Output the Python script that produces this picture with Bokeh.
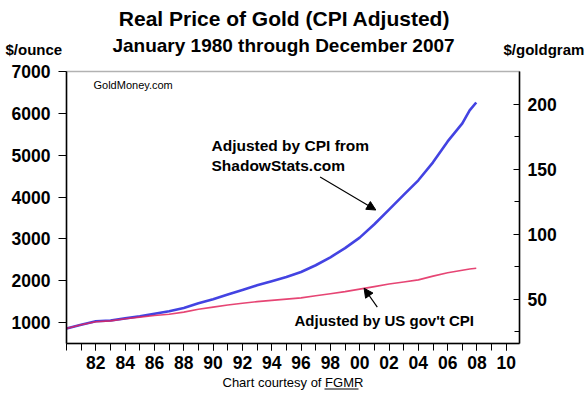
from bokeh.plotting import figure
from bokeh.models import (Range1d, LinearAxis, FixedTicker, Label, Arrow, NormalHead,
                          BoxAnnotation)
from bokeh.embed import file_html
from bokeh.resources import INLINE

# ---- data ----
years = [1980, 1981, 1982, 1983, 1984, 1985, 1986, 1987, 1988, 1989, 1990,
         1991, 1992, 1993, 1994, 1995, 1996, 1997, 1998, 1999, 2000,
         2001, 2002, 2003, 2004, 2005, 2006, 2007, 2007.5, 2007.95]
shadowstats = [860, 950, 1030, 1050, 1100, 1150, 1210, 1270, 1350, 1460, 1560,
               1670, 1780, 1890, 1990, 2090, 2210, 2370, 2560, 2780, 3030,
               3350, 3700, 4050, 4400, 4830, 5330, 5760, 6070, 6260]
gov_cpi = [860, 950, 1020, 1040, 1090, 1130, 1170, 1200, 1250, 1320, 1370,
           1420, 1460, 1500, 1530, 1560, 1590, 1640, 1690, 1740, 1800,
           1860, 1920, 1970, 2020, 2110, 2190, 2250, 2280, 2300]

x_major = [1982, 1984, 1986, 1988, 1990, 1992, 1994, 1996, 1998, 2000,
           2002, 2004, 2006, 2008, 2010]
x_labels = ["82", "84", "86", "88", "90", "92", "94", "96", "98", "00",
            "02", "04", "06", "08", "10"]
x_minor = list(range(1980, 2011))
y_ticks = [1000, 2000, 3000, 4000, 5000, 6000, 7000]
gram_ticks = [50, 100, 150, 200]
gram_minor = [25, 75, 125, 175]
GRAMS_PER_OZ = 31.1035

# plotting box (data limits of the inner chart)
X0, X1 = 1980, 2010.9
Y0, Y1 = 500, 7000

W, H = 588, 395
BOX_L, BOX_R, BOX_T, BOX_B = 66, 519, 71, 343   # pixel placement of the chart box
xs = (BOX_R - BOX_L) / (X1 - X0)
ys = (BOX_B - BOX_T) / (Y1 - Y0)
xr = Range1d(X0 - BOX_L / xs, X1 + (W - BOX_R) / xs)
yr = Range1d(Y0 - (H - BOX_B) / ys, Y1 + BOX_T / ys)

FONT = "Liberation Sans"
BLUE = "#4343e2"
RED = "#e2245c"

p = figure(width=W, height=H, output_backend="svg", toolbar_location=None,
           x_range=xr, y_range=yr, min_border=0,
           min_border_left=0, min_border_right=0, min_border_top=0,
           min_border_bottom=0)
p.grid.visible = False
p.outline_line_color = None
p.background_fill_color = "white"
p.border_fill_color = "white"

# chart box
p.add_layout(BoxAnnotation(left=X0, right=X1, bottom=Y0, top=Y1,
                           fill_alpha=0, line_color="black", line_width=1.5))

# bottom axis
xa = p.xaxis[0]
xa.fixed_location = Y0
xa.bounds = (X0, X1)
xa.ticker = FixedTicker(ticks=x_major, minor_ticks=x_minor)
xa.major_label_overrides = {y: l for y, l in zip(x_major, x_labels)}
xa.major_tick_out = 7
xa.major_tick_in = 0
xa.minor_tick_out = 7
xa.minor_tick_in = 0
xa.axis_line_color = "black"
xa.axis_line_width = 1.5
xa.major_tick_line_color = "black"
xa.minor_tick_line_color = "black"
xa.major_label_text_font = FONT
xa.major_label_text_font_style = "bold"
xa.major_label_text_font_size = "17.5px"
xa.major_label_text_color = "black"
xa.major_label_standoff = 5

# left axis
ya = p.yaxis[0]
ya.fixed_location = X0
ya.bounds = (Y0, Y1)
ya.ticker = FixedTicker(ticks=y_ticks)
ya.major_tick_out = 8
ya.major_tick_in = 0
ya.minor_tick_out = 0
ya.minor_tick_in = 0
ya.axis_line_color = "black"
ya.axis_line_width = 1.5
ya.major_tick_line_color = "black"
ya.major_label_text_font = FONT
ya.major_label_text_font_style = "bold"
ya.major_label_text_font_size = "17.5px"
ya.major_label_text_color = "black"
ya.major_label_standoff = 8

# right axis in $/goldgram
p.extra_y_ranges = {"gram": Range1d(yr.start / GRAMS_PER_OZ, yr.end / GRAMS_PER_OZ)}
ra = LinearAxis(y_range_name="gram", fixed_location=X1,
                bounds=(Y0 / GRAMS_PER_OZ, Y1 / GRAMS_PER_OZ),
                ticker=FixedTicker(ticks=gram_ticks, minor_ticks=gram_minor))
ra.major_tick_out = 0
ra.major_tick_in = 6
ra.minor_tick_out = 0
ra.minor_tick_in = 5
ra.axis_line_color = "black"
ra.axis_line_width = 1.5
ra.major_tick_line_color = "black"
ra.minor_tick_line_color = "black"
ra.major_label_text_font = FONT
ra.major_label_text_font_style = "bold"
ra.major_label_text_font_size = "17.5px"
ra.major_label_text_color = "black"
ra.major_label_standoff = 8
p.add_layout(ra, "right")

# series
p.line(years, shadowstats, line_color=BLUE, line_width=2.6)
p.line(years, gov_cpi, line_color=RED, line_width=1.6, line_alpha=0.85)

def lab(text, x, y, size, bold=True, align="left", baseline="middle", color="black"):
    # x, y given as page pixels from the top-left corner
    p.add_layout(Label(x=x, y=H - y, x_units="screen", y_units="screen", text=text,
                       text_font=FONT, text_font_size=size,
                       text_font_style="bold" if bold else "normal",
                       text_align=align, text_baseline=baseline, text_color=color))

lab("Real Price of Gold (CPI Adjusted)", 284, 18, "21px", align="center")
lab("January 1980 through December 2007", 283, 45, "19px", align="center")
lab("$/ounce", 5, 49, "15px")
lab("$/goldgram", 503, 49, "15px")
lab("GoldMoney.com", 93, 84, "11px", bold=False)
lab("Adjusted by CPI from", 211, 145, "15.5px")
lab("ShadowStats.com", 211, 165, "15.5px")
lab("Adjusted by US gov't CPI", 294, 320, "15px")
lab("Chart courtesy of FGMR", 222, 382, "13px", bold=False)
p.add_layout(BoxAnnotation(left=324, right=358, bottom=H - 389, top=H - 388,
                           left_units="screen", right_units="screen",
                           top_units="screen", bottom_units="screen",
                           fill_color="black", fill_alpha=1, line_alpha=0))

# arrows
p.add_layout(Arrow(end=NormalHead(size=9, fill_color="black", line_color="black"),
                   x_start=1997.3, y_start=4480, x_end=2001.1, y_end=3690,
                   line_color="black", line_width=1.2))
p.add_layout(Arrow(end=NormalHead(size=9, fill_color="black", line_color="black"),
                   x_start=2001.2, y_start=1370, x_end=2000.3, y_end=1820,
                   line_color="black", line_width=1.2))

open("out.html", "w").write(file_html(p, INLINE))
